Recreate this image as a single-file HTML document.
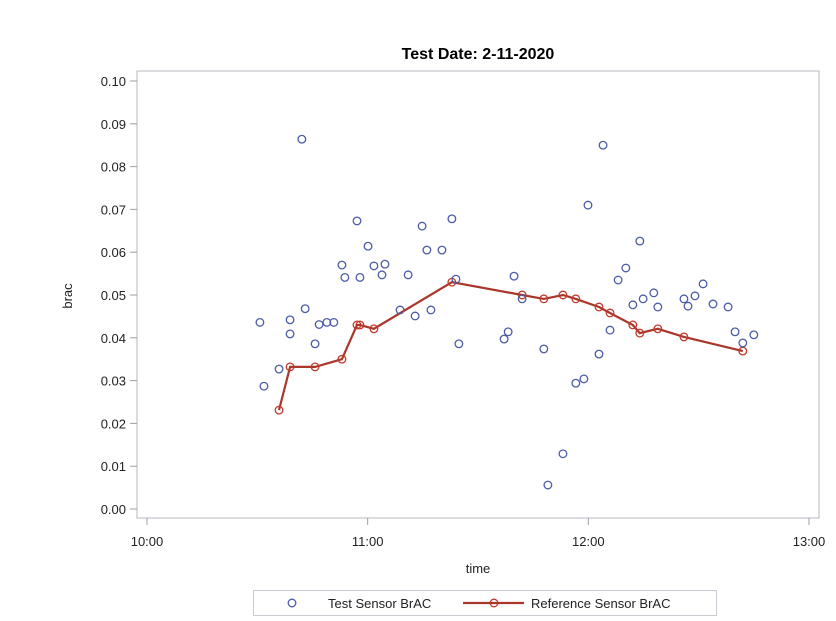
<!DOCTYPE html>
<html><head><meta charset="utf-8"><style>
body{margin:0;background:#fff;font-family:"Liberation Sans",Arial,sans-serif;}
svg{display:block}
</style></head><body>
<svg id="chart" width="836" height="621" viewBox="0 0 836 621" xmlns="http://www.w3.org/2000/svg" font-family="Liberation Sans, Arial, sans-serif">
<text x="478" y="59" text-anchor="middle" font-size="16" font-weight="bold" fill="#000">Test Date: 2-11-2020</text>
<rect x="137" y="71" width="682" height="447" fill="none" stroke="#b4bac2" stroke-width="1"/>
<g id="yaxis"></g>
<g id="xaxis"></g>
<text transform="translate(72,296) rotate(-90)" text-anchor="middle" font-size="13" fill="#222">brac</text>
<text x="478" y="573" text-anchor="middle" font-size="13" fill="#222">time</text>
<g id="series"></g>
<g>
<rect x="253.5" y="590.5" width="463" height="25" fill="none" stroke="#c8ccd2"/>
<circle cx="292" cy="603" r="3.8" fill="none" stroke="#4b5ca6" stroke-width="1.3"/>
<text x="328" y="608" font-size="13" fill="#222">Test Sensor BrAC</text>
<line x1="463" y1="603" x2="524" y2="603" stroke="#a9372b" stroke-width="2.2"/>
<circle cx="494" cy="603" r="3.8" fill="none" stroke="#c0392b" stroke-width="1.3"/>
<text x="531" y="608" font-size="13" fill="#222">Reference Sensor BrAC</text>
</g>
</svg>
<script>
// minutes after 10:00
const testTimes=[30.7,31.8,35.9,38.9,38.9,42.1,43.0,45.7,46.8,48.9,50.8,53.0,53.8,57.1,57.9,60.1,61.7,63.9,64.7,68.8,71.0,72.9,74.8,76.1,77.2,80.2,82.9,84.0,84.8,97.1,98.2,99.8,102.0,107.9,109.0,113.1,116.6,118.8,119.9,124.0,122.9,125.9,128.1,130.2,132.1,134.0,134.9,137.8,138.9,146.0,147.1,149.0,151.2,153.9,158.0,159.9,162.0,165.0];
const testValues=[0.0436,0.0287,0.0327,0.0442,0.0409,0.0864,0.0468,0.0386,0.0431,0.0436,0.0436,0.0570,0.0541,0.0673,0.0541,0.0614,0.0568,0.0547,0.0572,0.0465,0.0547,0.0451,0.0661,0.0605,0.0465,0.0605,0.0678,0.0537,0.0386,0.0397,0.0414,0.0544,0.0491,0.0374,0.0056,0.0129,0.0294,0.0304,0.0710,0.0850,0.0362,0.0418,0.0535,0.0563,0.0477,0.0626,0.0491,0.0505,0.0472,0.0491,0.0474,0.0498,0.0526,0.0479,0.0472,0.0414,0.0388,0.0407];
const refTimes=[35.9,38.9,45.7,53.0,57.1,57.9,61.7,82.9,102.0,107.9,113.1,116.6,122.9,125.9,132.1,134.0,138.9,146.0,162.0];
const refValues=[0.0231,0.0332,0.0332,0.0350,0.0430,0.0430,0.0421,0.0530,0.0500,0.0491,0.0500,0.0491,0.0472,0.0458,0.0430,0.0411,0.0421,0.0402,0.0369];
const yTicks=[0,0.01,0.02,0.03,0.04,0.05,0.06,0.07,0.08,0.09,0.10];
const xTicks=[0,60,120,180];
const xTickLabels=["10:00","11:00","12:00","13:00"];

const NS="http://www.w3.org/2000/svg";
const X=m=>147+m*(662/180);
const Y=v=>509-v*4280;
function mk(tag,attrs,parent){const e=document.createElementNS(NS,tag);for(const k in attrs)e.setAttribute(k,attrs[k]);parent.appendChild(e);return e;}
const ya=document.getElementById('yaxis'),xa=document.getElementById('xaxis'),sg=document.getElementById('series');
yTicks.forEach(v=>{
  const t=mk('line',{x1:130,x2:137,y1:Y(v),y2:Y(v),stroke:'#9aa0a8'},ya);
  
  
  const l=mk('text',{x:126,y:Y(v)+5,'text-anchor':'end','font-size':13,fill:'#222'},ya);
  l.textContent=v.toFixed(2);
  
  
});
xTicks.forEach((m,i)=>{
  const t=mk('line',{x1:X(m),x2:X(m),y1:518,y2:525,stroke:'#9aa0a8'},xa);
  
  
  const l=mk('text',{x:X(m),y:546,'text-anchor':'middle','font-size':13,fill:'#222'},xa);
  l.textContent=xTickLabels[i];
  
  
});
const pts=refTimes.map((t,i)=>X(t).toFixed(1)+','+Y(refValues[i]).toFixed(1)).join(' ');
const pl=mk('polyline',{points:pts,fill:'none',stroke:'#a9372b','stroke-width':2.2},sg);


refTimes.forEach((t,i)=>{
  const c=mk('circle',{cx:X(t),cy:Y(refValues[i]),r:3.8,fill:'none',stroke:'#c0392b','stroke-width':1.3},sg);
  
  
});
testTimes.forEach((t,i)=>{
  const c=mk('circle',{cx:X(t),cy:Y(testValues[i]),r:3.8,fill:'none',stroke:'#4b5ca6','stroke-width':1.3},sg);
  
  
});
</script>
</body></html>
